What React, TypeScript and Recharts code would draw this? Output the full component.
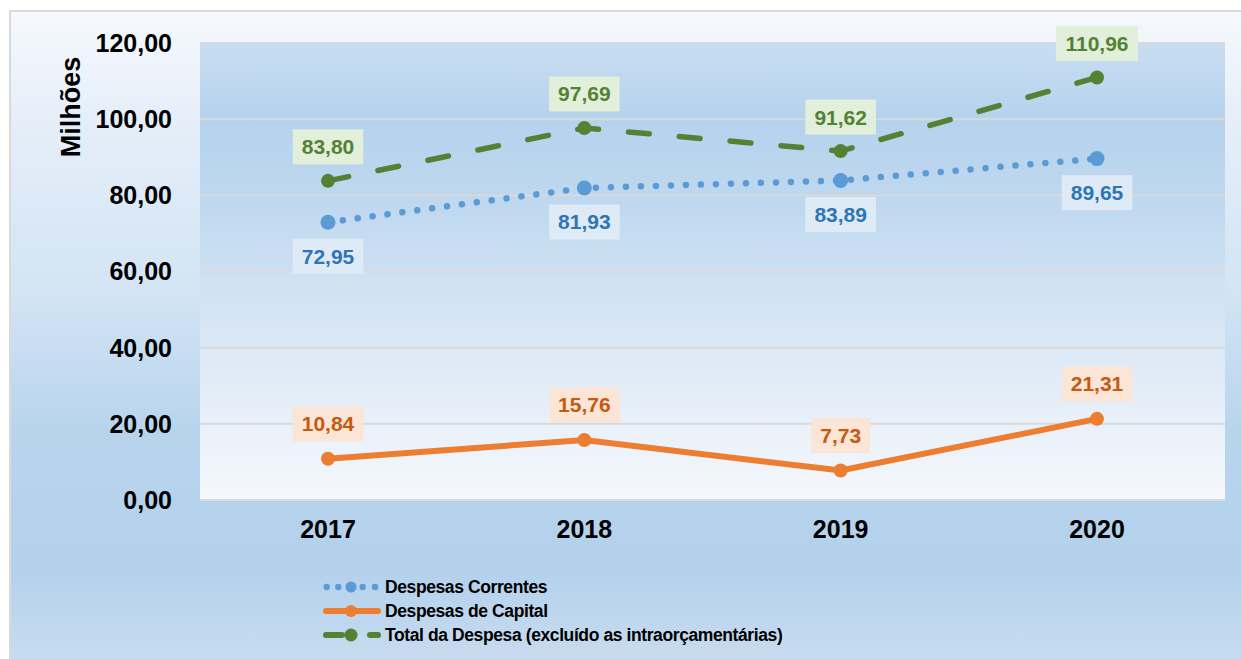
import React from 'react';
import { LineChart, Line, XAxis, YAxis, CartesianGrid, Legend, LabelList } from 'recharts';

const categories = ['2017', '2018', '2019', '2020'];
const despesasCorrentes = [72.95, 81.93, 83.89, 89.65];
const despesasCapital = [10.84, 15.76, 7.73, 21.31];
const totalDespesa = [83.8, 97.69, 91.62, 110.96];
const yTicks = [0, 20, 40, 60, 80, 100, 120];
const seriesNames = [
  'Despesas Correntes',
  'Despesas de Capital',
  'Total da Despesa (excluído as intraorçamentárias)',
];

const data = categories.map((c, i) => ({
  year: c,
  correntes: despesasCorrentes[i],
  capital: despesasCapital[i],
  total: totalDespesa[i],
}));

const FONT = '"Liberation Sans", Arial, Helvetica, sans-serif';
const BLUE = '#5b9bd5';
const ORANGE = '#ed7d31';
const GREEN = '#548235';

const fmt = (v: number) => v.toFixed(2).replace('.', ',');

const makeLabel = (textColor: string, bg: string, dy: number) => (props: any) => {
  const { x, y, value } = props;
  if (x == null || y == null || value == null) return null;
  const s = fmt(Number(value));
  const fs = 21;
  let w = 0;
  for (const ch of s) w += ch === ',' ? 0.278 : 0.556;
  const bw = w * fs + 18;
  const bh = 35;
  const cy = Number(y) + dy;
  return (
    <g>
      <rect x={Number(x) - bw / 2} y={cy - bh / 2} width={bw} height={bh} fill={bg} />
      <text
        x={Number(x)}
        y={cy}
        textAnchor="middle"
        dominantBaseline="central"
        fontFamily={FONT}
        fontWeight="bold"
        fontSize={fs}
        fill={textColor}
      >
        {s}
      </text>
    </g>
  );
};

const YTitle = () => (
  <text
    x={71}
    y={107}
    transform="rotate(-90 71 107)"
    textAnchor="middle"
    dominantBaseline="central"
    fontFamily={FONT}
    fontWeight="bold"
    fontSize={27}
    fill="#000"
  >
    Milhões
  </text>
);

const LegendContent = () => {
  const rowStyle: React.CSSProperties = {
    display: 'flex',
    alignItems: 'center',
    height: 24,
    whiteSpace: 'nowrap',
  };
  return (
    <div
      style={{
        fontFamily: FONT,
        fontWeight: 'bold',
        fontSize: 17.5,
        letterSpacing: '-0.4px',
        color: '#000',
        lineHeight: '24px',
      }}
    >
      <div style={rowStyle}>
        <svg width={65} height={24}>
          <circle cx={6.7} cy={12} r={3.2} fill={BLUE} />
          <circle cx={18.3} cy={12} r={3.2} fill={BLUE} />
          <circle cx={31} cy={12} r={5.5} fill={BLUE} />
          <circle cx={42.7} cy={12} r={3.2} fill={BLUE} />
          <circle cx={55} cy={12} r={3.2} fill={BLUE} />
        </svg>
        <span>{seriesNames[0]}</span>
      </div>
      <div style={rowStyle}>
        <svg width={65} height={24}>
          <line x1={6} y1={12} x2={58} y2={12} stroke={ORANGE} strokeWidth={6} strokeLinecap="round" />
          <circle cx={31} cy={12} r={6} fill={ORANGE} />
        </svg>
        <span>{seriesNames[1]}</span>
      </div>
      <div style={rowStyle}>
        <svg width={65} height={24}>
          <line x1={6} y1={12} x2={22} y2={12} stroke={GREEN} strokeWidth={6} strokeLinecap="round" />
          <circle cx={31} cy={12} r={6.5} fill={GREEN} />
          <line x1={50} y1={12} x2={58} y2={12} stroke={GREEN} strokeWidth={6} strokeLinecap="round" />
        </svg>
        <span>{seriesNames[2]}</span>
      </div>
    </div>
  );
};

const tickStyle = { fontFamily: FONT, fontWeight: 'bold', fontSize: 25, fill: '#000' } as any;

export default function App() {
  return (
    <div style={{ position: 'absolute', left: 0, top: 0, width: 1241, height: 659, overflow: 'hidden', background: '#fff' }}>
      <div
        style={{
          position: 'absolute',
          left: 9,
          top: 10,
          width: 1260,
          height: 700,
          boxSizing: 'border-box',
          border: '2px solid #d9d9d9',
          background:
            'linear-gradient(to bottom, #f6f9fd 0px, #e6eff9 100px, #d3e4f4 280px, #b8d4ed 420px, #b4d1ec 560px, #c8dcf0 650px, #c8dcf0 700px)',
        }}
      />
      <div style={{ position: 'absolute', left: 0, top: 0 }}>
        <LineChart width={1241} height={659} data={data} margin={{ top: 43, right: 16, left: 0, bottom: 99 }}>
          <defs>
            <linearGradient id="plotBg" x1="0" y1="0" x2="0" y2="1">
              <stop offset="0%" stopColor="#c8ddf1" />
              <stop offset="17%" stopColor="#b5d2ed" />
              <stop offset="35%" stopColor="#bfd8ef" />
              <stop offset="52%" stopColor="#cfe1f3" />
              <stop offset="72%" stopColor="#e0ebf7" />
              <stop offset="100%" stopColor="#f5f8fc" />
            </linearGradient>
          </defs>
          <CartesianGrid vertical={false} stroke="#d9d9d9" strokeWidth={2} fill="url(#plotBg)" fillOpacity={1} />
          <XAxis
            dataKey="year"
            padding={{ left: 128, right: 128 }}
            axisLine={false}
            tickLine={false}
            tickSize={0}
            tickMargin={20}
            height={60}
            tick={tickStyle}
            interval={0}
          />
          <YAxis
            domain={[0, 120]}
            ticks={yTicks}
            interval={0}
            width={200}
            axisLine={false}
            tickLine={false}
            tickSize={0}
            tickMargin={28}
            tick={tickStyle}
            tickFormatter={(v: number) => fmt(v)}
            label={{ content: () => <YTitle /> } as any}
          />
          <Legend
            layout="horizontal"
            verticalAlign="middle"
            align="center"
            content={() => <LegendContent />}
            wrapperStyle={{ left: 320, top: 575, width: 720, height: 76 }}
          />
          <Line
            name={seriesNames[0]}
            dataKey="correntes"
            stroke={BLUE}
            strokeWidth={6.5}
            strokeDasharray="0.01 15"
            strokeLinecap="round"
            dot={{ r: 7.5, fill: BLUE, stroke: 'none', strokeWidth: 0 }}
            activeDot={false}
            isAnimationActive={false}
          >
            <LabelList dataKey="correntes" content={makeLabel('#2e75b6', '#deebf7', 34)} />
          </Line>
          <Line
            name={seriesNames[1]}
            dataKey="capital"
            stroke={ORANGE}
            strokeWidth={6}
            strokeLinecap="round"
            dot={{ r: 7, fill: ORANGE, stroke: 'none', strokeWidth: 0 }}
            activeDot={false}
            isAnimationActive={false}
          >
            <LabelList dataKey="capital" content={makeLabel('#c55a11', '#fbe5d6', -35)} />
          </Line>
          <Line
            name={seriesNames[2]}
            dataKey="total"
            stroke={GREEN}
            strokeWidth={5.5}
            strokeDasharray="21 30"
            strokeLinecap="round"
            dot={{ r: 7, fill: GREEN, stroke: 'none', strokeWidth: 0 }}
            activeDot={false}
            isAnimationActive={false}
          >
            <LabelList dataKey="total" content={makeLabel(GREEN, '#e2efda', -34)} />
          </Line>
        </LineChart>
      </div>
    </div>
  );
}
